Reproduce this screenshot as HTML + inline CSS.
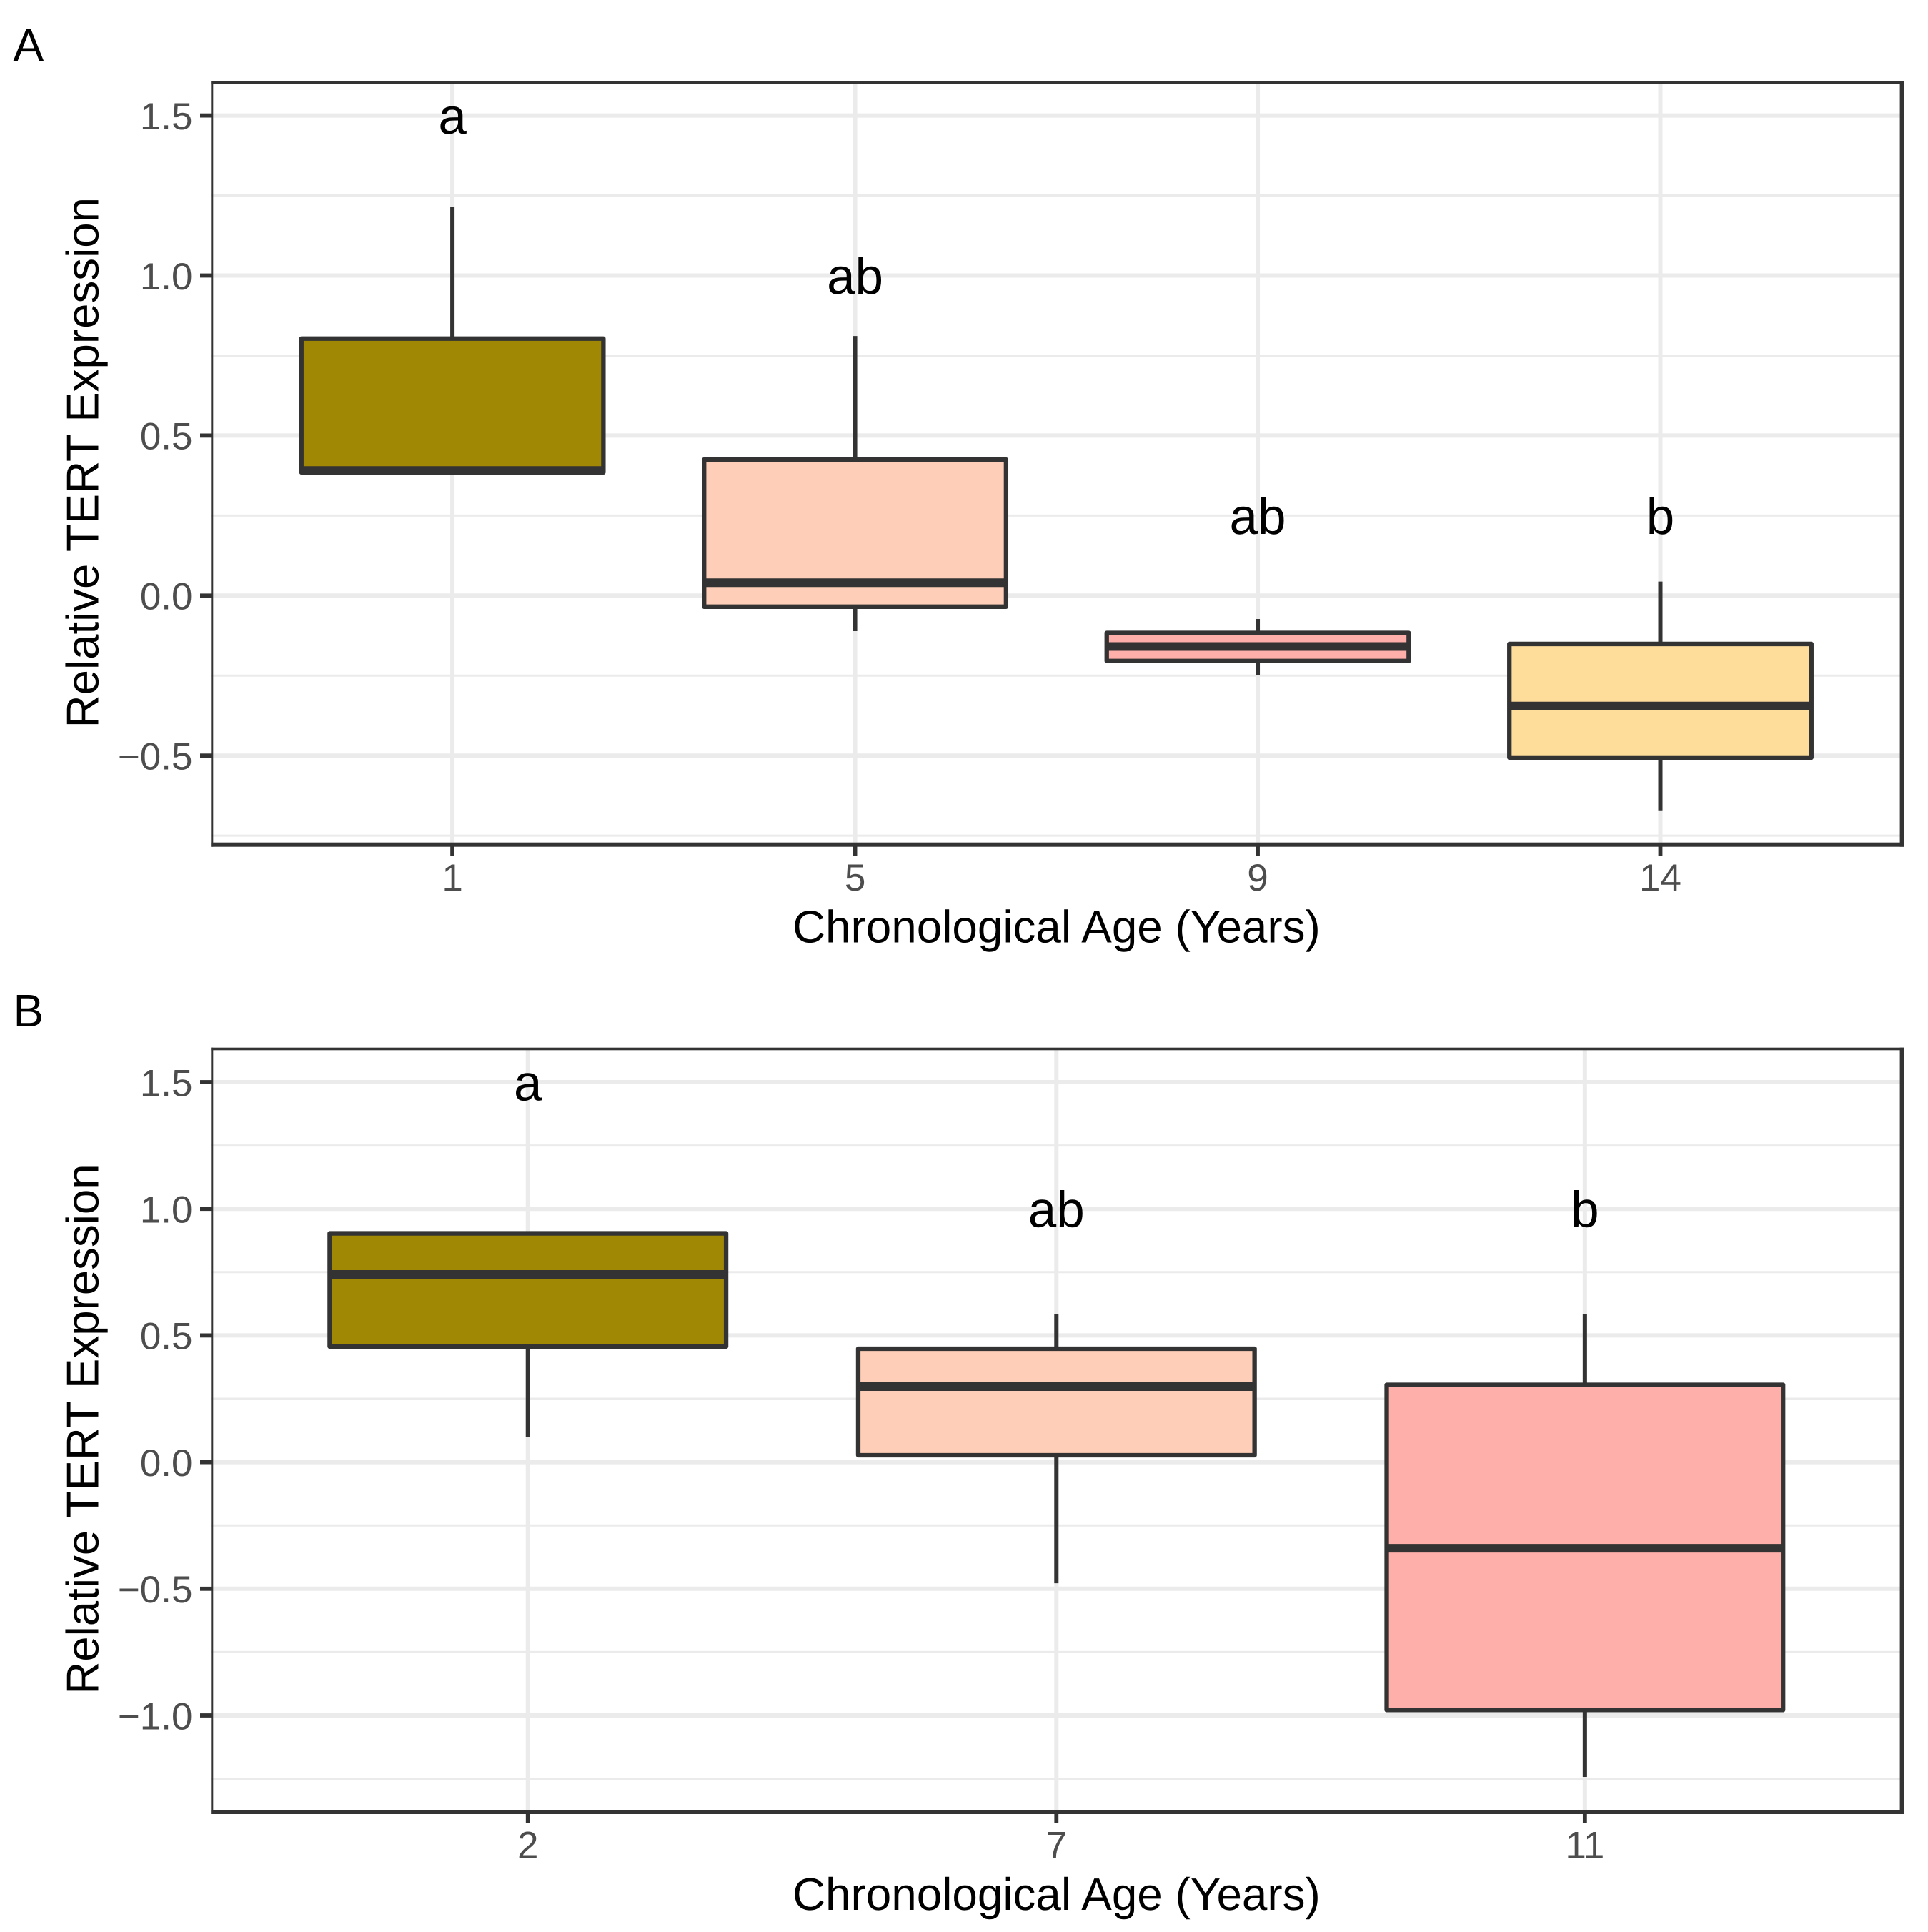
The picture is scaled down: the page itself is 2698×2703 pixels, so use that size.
<!DOCTYPE html>
<html lang="en">
<head>
<meta charset="utf-8">
<title>Relative TERT Expression by Chronological Age</title>
<style>
html,body{margin:0;padding:0;background:#fff;width:2698px;height:2703px;overflow:hidden}
svg{display:block;position:absolute;left:0;top:0}
text{font-family:"Liberation Sans",Arial,Helvetica,sans-serif;text-rendering:geometricPrecision}
</style>
</head>
<body>
<svg id="figure" xmlns="http://www.w3.org/2000/svg" width="2698" height="2703" viewBox="0 0 2698 2703"></svg>
<script>
// Panel A data
const categoriesA = ['1', '5', '9', '14'];
const whiskerHighA = [1.2155, 0.811, -0.073, 0.044];
const q3A = [0.803, 0.425, -0.1166, -0.151];
const medianA = [0.391, 0.0403, -0.159, -0.345];
const q1A = [0.385, -0.0346, -0.2042, -0.506];
const whiskerLowA = [0.385, -0.111, -0.2494, -0.671];
const lettersA = ['a', 'ab', 'ab', 'b'];
const letterLevelsA = [1.5, 1.0, 0.25, 0.25];
const majorTicksA = [-0.5, 0, 0.5, 1, 1.5];
const tickLabelsA = ['\u22120.5', '0.0', '0.5', '1.0', '1.5'];
const minorTicksA = [-0.75, -0.25, 0.25, 0.75, 1.25];

// Panel B data
const categoriesB = ['2', '7', '11'];
const whiskerHighB = [0.903, 0.583, 0.5857];
const q3B = [0.903, 0.4475, 0.305];
const medianB = [0.741, 0.298, -0.34];
const q1B = [0.4564, 0.0271, -0.9785];
const whiskerLowB = [0.0999, -0.4785, -1.2428];
const lettersB = ['a', 'ab', 'b'];
const letterLevelsB = [1.5, 1.0, 1.0];
const majorTicksB = [-1, -0.5, 0, 0.5, 1, 1.5];
const tickLabelsB = ['\u22121.0', '\u22120.5', '0.0', '0.5', '1.0', '1.5'];
const minorTicksB = [-1.25, -0.75, -0.25, 0.25, 0.75, 1.25];

const boxFills = ['#A08804', '#FFCEB8', '#FFAFA9', '#FEDD9B'];
const NS = 'http://www.w3.org/2000/svg';
const svg = document.getElementById('figure');
const INK = '#333333';
const GRID = '#EBEBEB';
const LEFT = 295;
const RIGHT = 2661.6;

function node(tag, parent, attrs, content) {
  const el = document.createElementNS(NS, tag);
  for (const k in attrs) el.setAttribute(k, attrs[k]);
  if (content !== undefined) el.textContent = content;
  parent.appendChild(el);
  return el;
}

function drawPanel(id, p) {
  const n = p.categories.length;
  const step = (RIGHT - LEFT) / (n - 1 + 1.2);
  const x = i => LEFT + (0.6 + i) * step;
  const y = v => p.zeroY - p.unit * v;
  const boxW = 0.75 * step;

  const g = node('g', svg, {});
  
  

  p.minor.forEach(v => {
    const el = node('line', g, {x1: LEFT, x2: RIGHT, y1: y(v), y2: y(v), stroke: GRID, 'stroke-width': 3});
    
    
  });
  p.major.forEach(v => {
    const el = node('line', g, {x1: LEFT, x2: RIGHT, y1: y(v), y2: y(v), stroke: GRID, 'stroke-width': 6});
    
    
  });
  p.categories.forEach((c, i) => {
    const el = node('line', g, {x1: x(i), x2: x(i), y1: p.top, y2: p.bottom, stroke: GRID, 'stroke-width': 6});
    
    
  });

  p.categories.forEach((c, i) => {
    const group = node('g', g, {});
    
    

    const up = node('line', group, {x1: x(i), x2: x(i), y1: y(p.whiskerHigh[i]), y2: y(p.q3[i]), stroke: INK, 'stroke-width': 6});
    
    

    const low = node('line', group, {x1: x(i), x2: x(i), y1: y(p.q1[i]), y2: y(p.whiskerLow[i]), stroke: INK, 'stroke-width': 6});
    
    

    const box = node('rect', group, {x: x(i) - boxW / 2, width: boxW, y: y(p.q3[i]), height: y(p.q1[i]) - y(p.q3[i]), fill: boxFills[i], stroke: INK, 'stroke-width': 6.3, 'stroke-linejoin': 'round'});
    
    

    const med = node('line', group, {x1: x(i) - boxW / 2, x2: x(i) + boxW / 2, y1: y(p.median[i]), y2: y(p.median[i]), stroke: INK, 'stroke-width': 12});
    
    

    const letter = node('text', g, {x: x(i), y: y(p.letterLevels[i]) + 25.5, 'text-anchor': 'middle', 'font-size': 71, fill: '#000'}, p.letters[i]);
    
    
  });

  const borders = [
    [LEFT + 0.3, p.top - 0.6, 3, p.bottom - p.top + 3.6],
    [LEFT + 0.3, p.top - 0.6, RIGHT - LEFT + 2.7, 3.6],
    [RIGHT - 3, p.top - 0.6, 6, p.bottom - p.top + 3.6],
    [LEFT + 0.3, p.bottom - 3, RIGHT - LEFT + 2.7, 6]
  ];
  borders.forEach(b => {
    const el = node('rect', g, {x: b[0], y: b[1], width: b[2], height: b[3], fill: INK});
    
    
  });

  p.major.forEach((v, i) => {
    const t = node('line', g, {x1: LEFT - 15, x2: LEFT + 0.5, y1: y(v), y2: y(v), stroke: INK, 'stroke-width': 5.8});
    
    
    const l = node('text', g, {x: 269.5, y: y(v) + 19.3, 'text-anchor': 'end', 'font-size': 53, fill: '#4D4D4D'}, p.tickLabels[i]);
    
    
  });

  p.categories.forEach((c, i) => {
    const t = node('line', g, {x1: x(i), x2: x(i), y1: p.bottom, y2: p.bottom + 15.5, stroke: INK, 'stroke-width': 5.8});
    
    
    const l = node('text', g, {x: x(i), y: p.bottom + 64.5, 'text-anchor': 'middle', 'font-size': 53, fill: '#4D4D4D'}, c);
    
    
  });

  const xt = node('text', g, {x: 1478.4, y: p.bottom + 137, 'text-anchor': 'middle', 'font-size': 63.8, fill: '#000'}, 'Chronological Age (Years)');
  
  

  const cy = p.top + 533.2;
  const yt = node('text', g, {x: 0, y: 0, transform: 'translate(137.5 ' + cy + ') rotate(-90)', 'text-anchor': 'middle', 'font-size': 63.6, fill: '#000'}, 'Relative TERT Expression');
  
  

  const tag = node('text', g, {x: p.tagX, y: p.tagY, 'font-size': 64, fill: '#000'}, id);
  
  
}

drawPanel('A', {
  categories: categoriesA, whiskerHigh: whiskerHighA, q3: q3A, median: medianA, q1: q1A, whiskerLow: whiskerLowA,
  letters: lettersA, letterLevels: letterLevelsA, major: majorTicksA, tickLabels: tickLabelsA, minor: minorTicksA,
  zeroY: 833.3, unit: 447.8, top: 114, bottom: 1181.7, tagX: 18.5, tagY: 85
});
drawPanel('B', {
  categories: categoriesB, whiskerHigh: whiskerHighB, q3: q3B, median: medianB, q1: q1B, whiskerLow: whiskerLowB,
  letters: lettersB, letterLevels: letterLevelsB, major: majorTicksB, tickLabels: tickLabelsB, minor: minorTicksB,
  zeroY: 2045.6, unit: 354.4, top: 1466.3, bottom: 2535, tagX: 18.5, tagY: 1436
});
</script>
</body>
</html>
